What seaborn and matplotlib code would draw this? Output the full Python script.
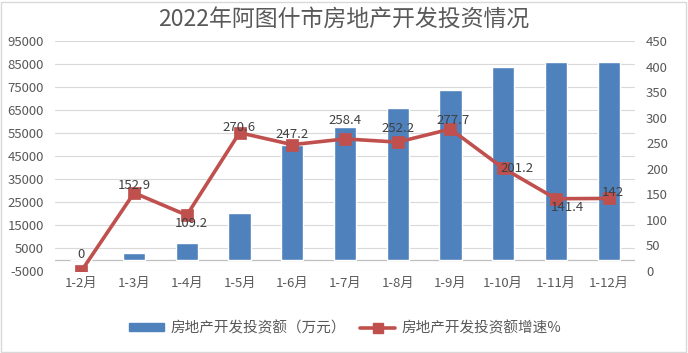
import matplotlib
matplotlib.use("Agg")
import matplotlib.pyplot as plt
import seaborn as sns
import pandas as pd
from matplotlib.patches import Rectangle
from matplotlib.lines import Line2D
from matplotlib.patches import Patch

months = ["1-2月", "1-3月", "1-4月", "1-5月", "1-6月", "1-7月", "1-8月", "1-9月", "1-10月", "1-11月", "1-12月"]
investment = [0, 2700, 7300, 20200, 49800, 57500, 65700, 73700, 83800, 85700, 85700]
growth = [0, 152.9, 109.2, 270.6, 247.2, 258.4, 252.2, 277.7, 201.2, 141.4, 142]
growth_labels = ["0", "152.9", "109.2", "270.6", "247.2", "258.4", "252.2", "277.7", "201.2", "141.4", "142"]
left_ticks = list(range(-5000, 95001, 10000))
right_ticks = list(range(0, 451, 50))

# label offsets in points (style)
label_offsets = [(0, 12), (0, 5), (3, -6), (0, 4), (0, 7), (0, 13), (0, 10), (2, 6), (10, 0), (8, -6), (3, 4)]

sns.set_theme(style="white")
plt.rcParams['font.family'] = ['Noto Sans CJK SC', 'DejaVu Sans']

df = pd.DataFrame({"month": months, "inv": investment, "growth": growth})

fig = plt.figure(figsize=(6.88, 3.53), dpi=100)
ax = fig.add_axes([55/688, 1-271/353, 580/688, 230/353])

grid_c = "#D9D9D9"
text_c = "#595959"
bar_c = "#4F81BD"
line_c = "#C0504D"

for t in left_ticks:
    ax.axhline(t, color=grid_c, lw=0.8, zorder=0)
ax.axhline(0, color="#BFBFBF", lw=0.9, zorder=1)

sns.barplot(data=df, x="month", y="inv", ax=ax, color=bar_c, width=0.42,
            saturation=1, order=months, zorder=2)
ax.set_ylim(-5000, 95000)
ax.set_yticks(left_ticks)
ax.set_yticklabels([str(t) for t in left_ticks])
ax.set_xlim(-0.5, len(months) - 0.5)
ax.set_xlabel("")
ax.set_ylabel("")
for s in ax.spines.values():
    s.set_visible(False)
ax.tick_params(axis="y", length=0, pad=8, labelsize=9.5, labelcolor=text_c)
ax.tick_params(axis="x", length=0, pad=4, labelsize=9.5, labelcolor=text_c)

ax2 = ax.twinx()
sns.pointplot(data=df, x="month", y="growth", ax=ax2, order=months, color=line_c,
              markers="s", markersize=7.5, linewidth=2.6, errorbar=None)
ax2.set_ylim(0, 450)
ax2.set_yticks(right_ticks)
ax2.set_yticklabels([str(t) for t in right_ticks])
ax2.set_ylabel("")
for s in ax2.spines.values():
    s.set_visible(False)
ax2.tick_params(axis="y", length=0, pad=8, labelsize=9.5, labelcolor=text_c)

for i, (v, lab) in enumerate(zip(growth, growth_labels)):
    dx, dy = label_offsets[i]
    ax2.annotate(lab, (i, v), xytext=(dx, dy), textcoords="offset points",
                 ha="center", va="center", fontsize=9.5, color="#404040", zorder=5)

fig.text(0.5, 1-20/353, "2022年阿图什市房地产开发投资情况", ha="center", va="center",
         fontsize=16.5, color=text_c)

handles = [Patch(facecolor=bar_c, edgecolor=bar_c),
           Line2D([0], [0], color=line_c, lw=2.6, marker="s", markersize=7.5)]
fig.legend(handles, ["房地产开发投资额（万元）", "房地产开发投资额增速%"],
           loc="center", bbox_to_anchor=(345/688, 1-328/353), ncol=2, frameon=False,
           fontsize=10.5, labelcolor=text_c, handlelength=2.4, handleheight=0.5,
           columnspacing=1.0, handletextpad=0.4)

fig.patches.append(Rectangle((0.002, 0.004), 0.995, 0.99, transform=fig.transFigure,
                             fill=False, edgecolor="#D9D9D9", lw=1))

fig.savefig("out.png", dpi=100)
